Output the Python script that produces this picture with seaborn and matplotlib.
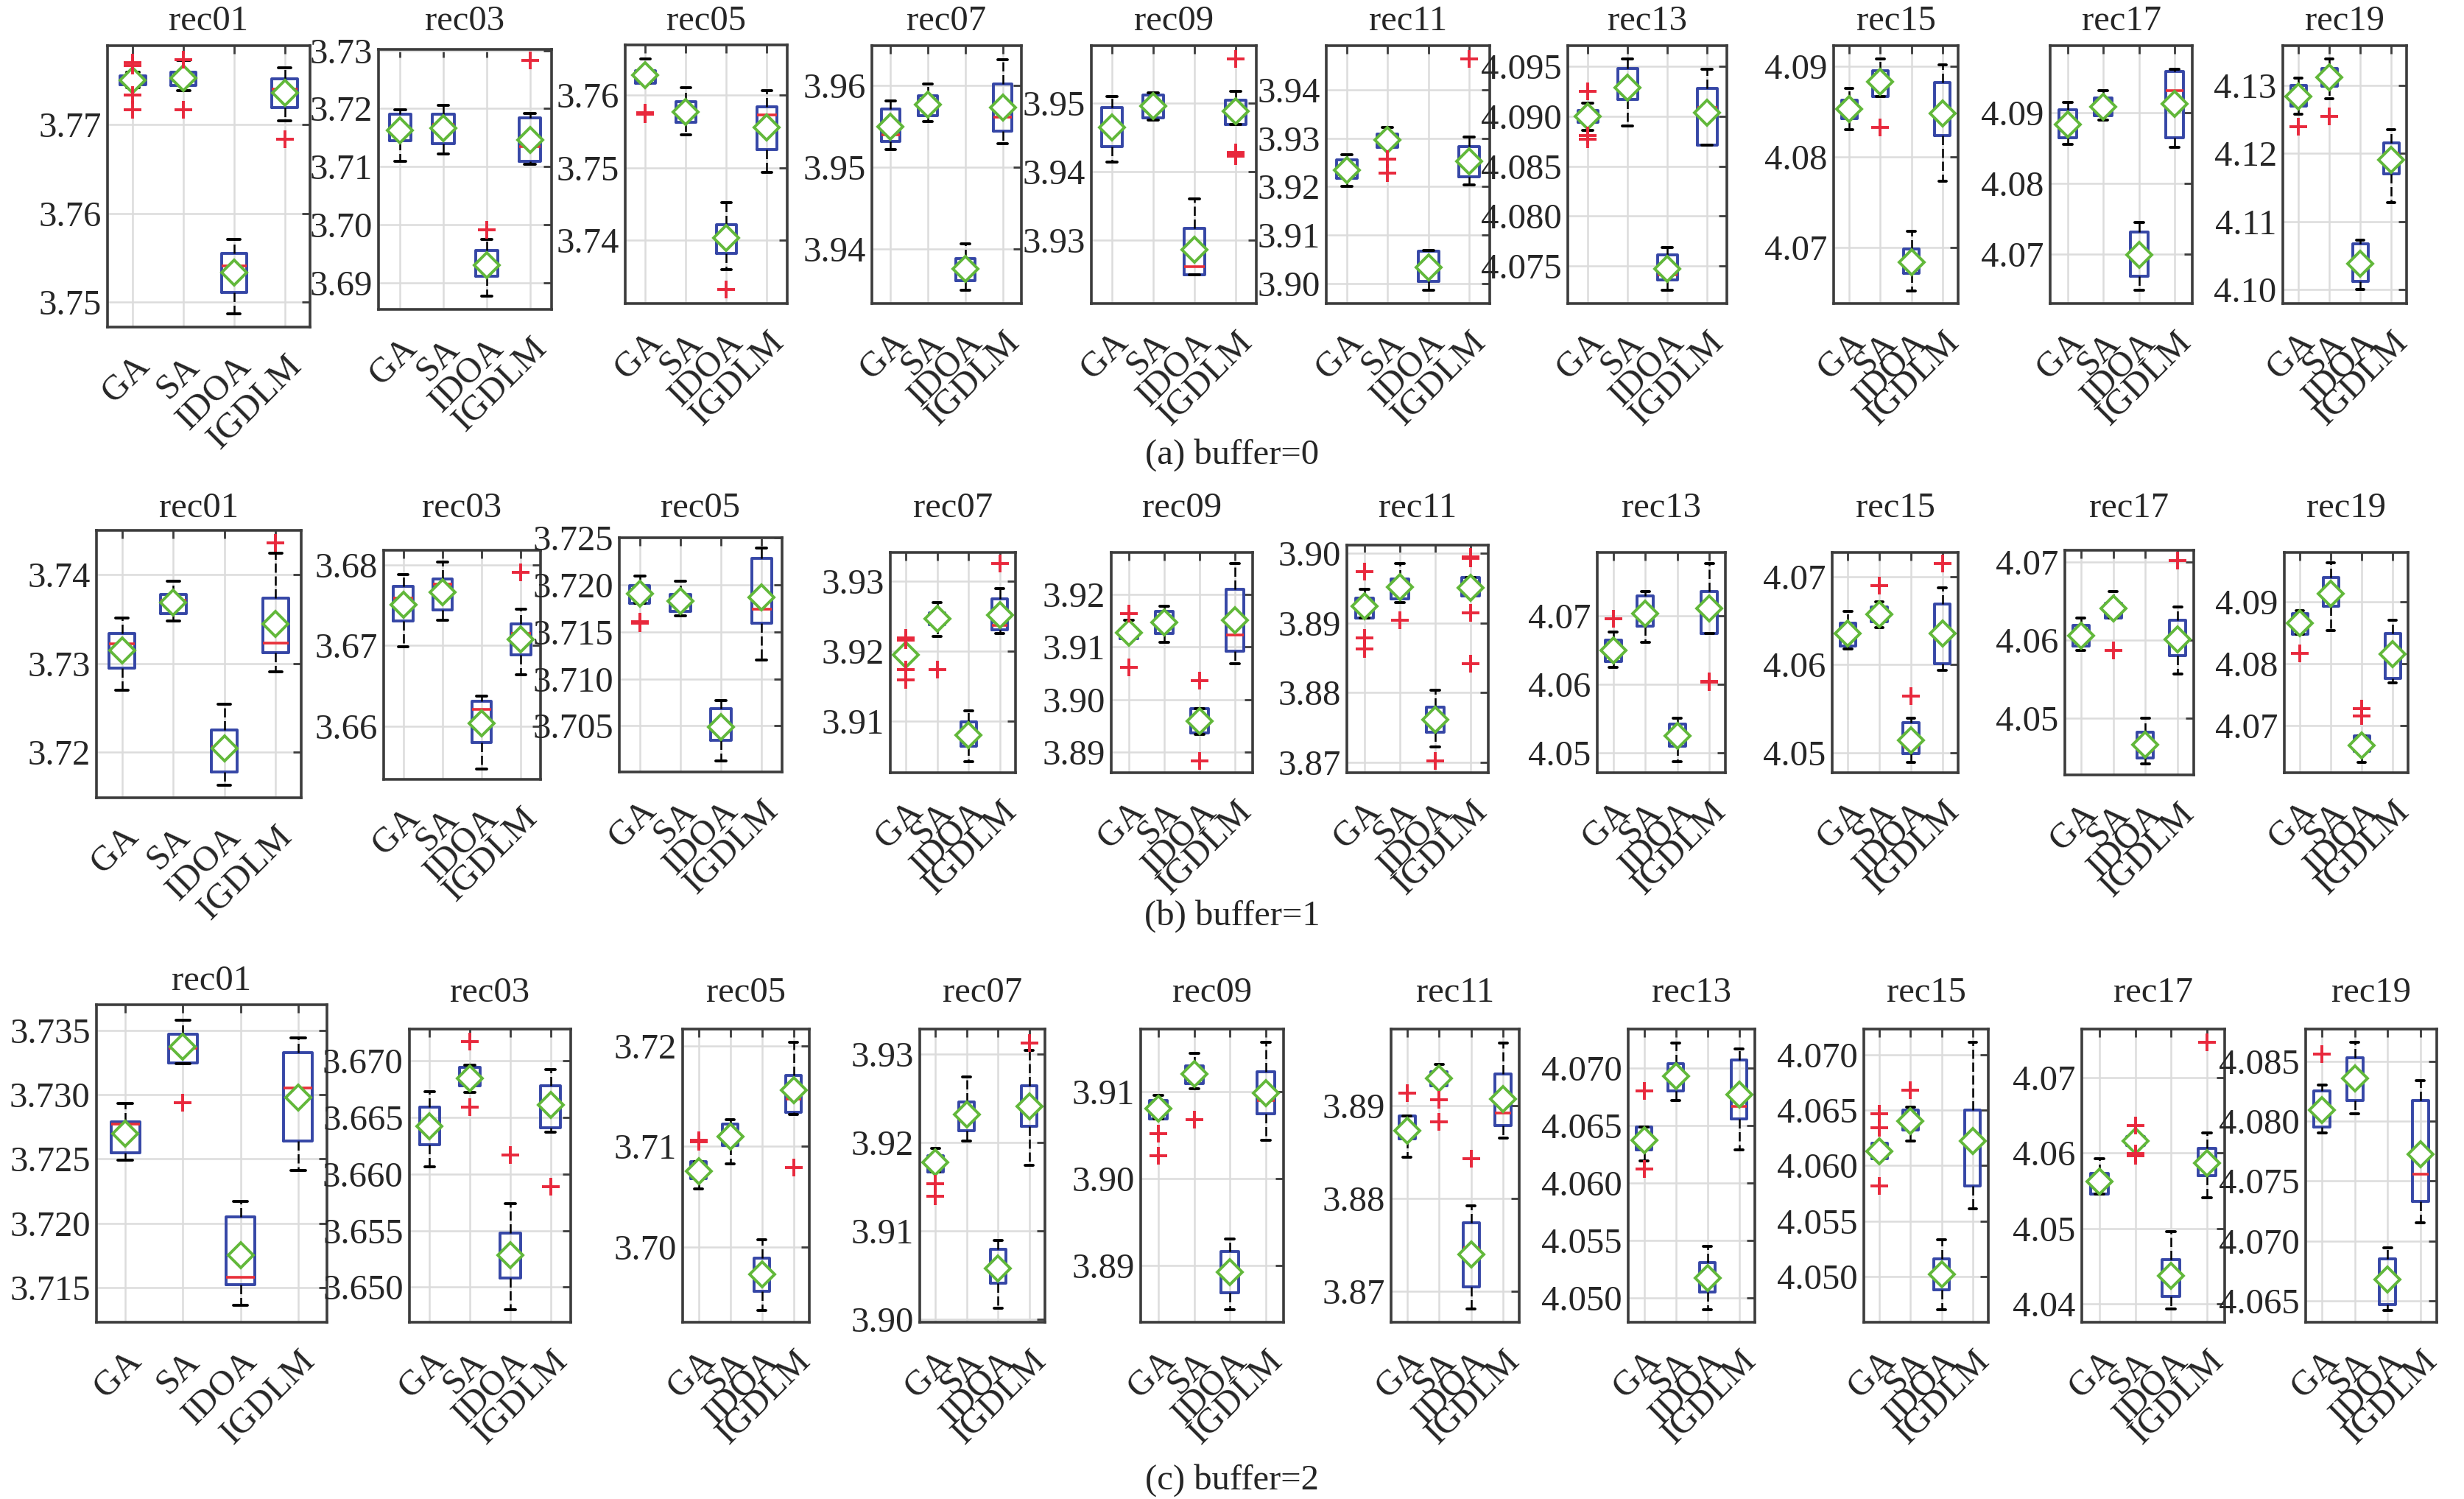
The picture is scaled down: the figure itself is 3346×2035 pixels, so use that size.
import matplotlib
matplotlib.use('Agg')
import matplotlib.pyplot as plt
from matplotlib.transforms import ScaledTranslation
import seaborn as sns
import pandas as pd

W, H = 3346, 2035

algorithms = ['GA', 'SA', 'IDOA', 'IGDLM']
recs = ['rec01', 'rec03', 'rec05', 'rec07', 'rec09',
        'rec11', 'rec13', 'rec15', 'rec17', 'rec19']
captions = ['(a) buffer=0', '(b) buffer=1', '(c) buffer=2']

# (lower whisker, Q1, median, Q3, upper whisker) for GA, SA, IDOA, IGDLM
box_buf0 = {
    'rec01': [(3.7742, 3.7745, 3.7750, 3.7755, 3.7759), (3.7738, 3.7744, 3.7753, 3.7759, 3.7772),
              (3.7487, 3.7511, 3.7541, 3.7555, 3.7571), (3.7704, 3.7719, 3.7740, 3.7752, 3.7764)],
    'rec03': [(3.7109, 3.7144, 3.7165, 3.7190, 3.7198), (3.7122, 3.7139, 3.7173, 3.7190, 3.7206),
              (3.6877, 3.6911, 3.6930, 3.6955, 3.6975), (3.7104, 3.7109, 3.7135, 3.7184, 3.7192)],
    'rec05': [(3.7616, 3.7616, 3.7627, 3.7634, 3.7650), (3.7545, 3.7563, 3.7577, 3.7591, 3.7610),
              (3.7360, 3.7382, 3.7402, 3.7422, 3.7452), (3.7494, 3.7525, 3.7573, 3.7584, 3.7606)],
    'rec07': [(3.9522, 3.9532, 3.9540, 3.9571, 3.9581), (3.9556, 3.9563, 3.9578, 3.9588, 3.9602),
              (3.9349, 3.9361, 3.9377, 3.9388, 3.9406), (3.9529, 3.9544, 3.9561, 3.9602, 3.9632)],
    'rec09': [(3.9414, 3.9436, 3.9469, 3.9493, 3.9510), (3.9475, 3.9478, 3.9497, 3.9512, 3.9515),
              (3.9249, 3.9249, 3.9261, 3.9317, 3.9360), (3.9469, 3.9469, 3.9486, 3.9504, 3.9517)],
    'rec11': [(3.9200, 3.9217, 3.9234, 3.9255, 3.9266), (3.9281, 3.9281, 3.9293, 3.9309, 3.9323),
              (3.8987, 3.9004, 3.9035, 3.9067, 3.9068), (3.9204, 3.9220, 3.9249, 3.9283, 3.9303)],
    'rec13': [(4.0886, 4.0894, 4.0901, 4.0906, 4.0913), (4.0890, 4.0917, 4.0926, 4.0948, 4.0958),
              (4.0725, 4.0736, 4.0741, 4.0761, 4.0768), (4.0871, 4.0871, 4.0909, 4.0928, 4.0947)],
    'rec15': [(4.0830, 4.0842, 4.0852, 4.0863, 4.0876), (4.0867, 4.0867, 4.0885, 4.0895, 4.0908),
              (4.0652, 4.0671, 4.0680, 4.0698, 4.0718), (4.0773, 4.0824, 4.0852, 4.0882, 4.0902)],
    'rec17': [(4.0855, 4.0865, 4.0877, 4.0904, 4.0915), (4.0890, 4.0896, 4.0904, 4.0921, 4.0931),
              (4.0649, 4.0669, 4.0698, 4.0731, 4.0745), (4.0851, 4.0865, 4.0931, 4.0958, 4.0962)],
    'rec19': [(4.1258, 4.1269, 4.1280, 4.1300, 4.1310), (4.1280, 4.1299, 4.1317, 4.1325, 4.1339),
              (4.1000, 4.1012, 4.1032, 4.1068, 4.1073), (4.1128, 4.1170, 4.1200, 4.1215, 4.1235)],
}
box_buf1 = {
    'rec01': [(3.7270, 3.7295, 3.7322, 3.7334, 3.7351), (3.7348, 3.7356, 3.7371, 3.7378, 3.7393),
              (3.7163, 3.7178, 3.7206, 3.7225, 3.7254), (3.7291, 3.7312, 3.7323, 3.7374, 3.7424)],
    'rec03': [(3.6698, 3.6730, 3.6759, 3.6773, 3.6788), (3.6731, 3.6744, 3.6776, 3.6782, 3.6803),
              (3.6547, 3.6580, 3.6621, 3.6631, 3.6637), (3.6664, 3.6688, 3.6715, 3.6727, 3.6745)],
    'rec05': [(3.7180, 3.7180, 3.7189, 3.7199, 3.7209), (3.7167, 3.7172, 3.7182, 3.7190, 3.7204),
              (3.7013, 3.7035, 3.7046, 3.7068, 3.7077), (3.7120, 3.7159, 3.7174, 3.7228, 3.7239)],
    'rec07': [(3.9189, 3.9189, 3.9195, 3.9199, 3.9199), (3.9221, 3.9238, 3.9247, 3.9255, 3.9269),
              (3.9042, 3.9064, 3.9073, 3.9099, 3.9115), (3.9225, 3.9230, 3.9237, 3.9275, 3.9289)],
    'rec09': [(3.9116, 3.9116, 3.9126, 3.9133, 3.9150), (3.9108, 3.9125, 3.9154, 3.9167, 3.9177),
              (3.8933, 3.8936, 3.8961, 3.8982, 3.8982), (3.9068, 3.9092, 3.9123, 3.9209, 3.9258)],
    'rec11': [(3.8907, 3.8907, 3.8925, 3.8936, 3.8949), (3.8929, 3.8935, 3.8952, 3.8963, 3.8986),
              (3.8722, 3.8743, 3.8762, 3.8779, 3.8803), (3.8939, 3.8939, 3.8946, 3.8965, 3.8965)],
    'rec13': [(4.0625, 4.0634, 4.0651, 4.0665, 4.0677), (4.0662, 4.0685, 4.0702, 4.0729, 4.0736),
              (4.0487, 4.0510, 4.0529, 4.0542, 4.0551), (4.0675, 4.0675, 4.0707, 4.0736, 4.0777)],
    'rec15': [(4.0618, 4.0621, 4.0633, 4.0647, 4.0661), (4.0642, 4.0649, 4.0659, 4.0666, 4.0672),
              (4.0489, 4.0499, 4.0506, 4.0534, 4.0539), (4.0594, 4.0601, 4.0629, 4.0669, 4.0688)],
    'rec17': [(4.0587, 4.0592, 4.0603, 4.0619, 4.0628), (4.0628, 4.0628, 4.0640, 4.0647, 4.0662),
              (4.0441, 4.0449, 4.0458, 4.0482, 4.0500), (4.0556, 4.0580, 4.0600, 4.0625, 4.0642)],
    'rec19': [(4.0848, 4.0848, 4.0867, 4.0881, 4.0886), (4.0854, 4.0893, 4.0909, 4.0939, 4.0963),
              (4.0640, 4.0658, 4.0666, 4.0683, 4.0683), (4.0769, 4.0776, 4.0817, 4.0849, 4.0870)],
}
box_buf2 = {
    'rec01': [(3.7249, 3.7255, 3.7277, 3.7279, 3.7293), (3.7324, 3.7325, 3.7336, 3.7347, 3.7358),
              (3.7136, 3.7152, 3.7158, 3.7205, 3.7217), (3.7241, 3.7264, 3.7305, 3.7333, 3.7344)],
    'rec03': [(3.6606, 3.6626, 3.6645, 3.6659, 3.6673), (3.6672, 3.6678, 3.6681, 3.6694, 3.6696),
              (3.6480, 3.6508, 3.6530, 3.6548, 3.6574), (3.6637, 3.6641, 3.6659, 3.6678, 3.6692)],
    'rec05': [(3.7058, 3.7068, 3.7080, 3.7085, 3.7085), (3.7083, 3.7101, 3.7114, 3.7122, 3.7127),
              (3.6937, 3.6956, 3.6973, 3.6989, 3.7007), (3.7132, 3.7134, 3.7147, 3.7171, 3.7204)],
    'rec07': [(3.9167, 3.9167, 3.9178, 3.9185, 3.9193), (3.9202, 3.9213, 3.9225, 3.9246, 3.9274),
              (3.9013, 3.9041, 3.9062, 3.9079, 3.9089), (3.9174, 3.9218, 3.9245, 3.9264, 3.9304)],
    'rec09': [(3.9069, 3.9069, 3.9083, 3.9090, 3.9096), (3.9103, 3.9109, 3.9119, 3.9130, 3.9144),
              (3.8849, 3.8869, 3.8898, 3.8916, 3.8931), (3.9044, 3.9075, 3.9090, 3.9123, 3.9157)],
    'rec11': [(3.8844, 3.8864, 3.8871, 3.8889, 3.8889), (3.8921, 3.8921, 3.8926, 3.8936, 3.8944),
              (3.8681, 3.8705, 3.8747, 3.8774, 3.8792), (3.8865, 3.8878, 3.8892, 3.8934, 3.8967)],
    'rec13': [(4.0619, 4.0629, 4.0638, 4.0649, 4.0649), (4.0672, 4.0680, 4.0689, 4.0704, 4.0722),
              (4.0490, 4.0505, 4.0514, 4.0531, 4.0545), (4.0629, 4.0656, 4.0667, 4.0707, 4.0717)],
    'rec15': [(4.0606, 4.0606, 4.0611, 4.0620, 4.0620), (4.0622, 4.0632, 4.0640, 4.0650, 4.0653),
              (4.0470, 4.0488, 4.0504, 4.0516, 4.0533), (4.0561, 4.0582, 4.0617, 4.0650, 4.0711)],
    'rec17': [(4.0546, 4.0546, 4.0558, 4.0573, 4.0592), (4.0610, 4.0610, 4.0618, 4.0622, 4.0622),
              (4.0394, 4.0410, 4.0436, 4.0459, 4.0496), (4.0541, 4.0570, 4.0586, 4.0606, 4.0627)],
    'rec19': [(4.0790, 4.0795, 4.0805, 4.0825, 4.0830), (4.0806, 4.0817, 4.0840, 4.0853, 4.0866),
              (4.0642, 4.0647, 4.0672, 4.0685, 4.0694), (4.0715, 4.0733, 4.0756, 4.0817, 4.0834)],
}

# outliers (red +) for GA, SA, IDOA, IGDLM
out_buf0 = {
    'rec01': [[3.7770, 3.7767, 3.7733, 3.7717], [3.7773, 3.7717], [], [3.7684]],
    'rec03': [[], [], [3.6991], [3.7283]],
    'rec05': [[3.7574, 3.7576], [], [3.7332], []],
    'rec07': [[], [], [], []],
    'rec09': [[], [], [], [3.9565, 3.9428, 3.9422, 3.9425]],
    'rec11': [[], [3.9257, 3.9228], [], [3.9464]],
    'rec13': [[4.0925, 4.0881, 4.0877], [], [], []],
    'rec15': [[], [4.0833], [], []],
    'rec17': [[], [], [], []],
    'rec19': [[4.1239], [4.1254], [], []],
}
out_buf1 = {
    'rec01': [[], [], [], [3.7436]],
    'rec03': [[], [], [], [3.6791]],
    'rec05': [[3.7159, 3.7161], [], [], []],
    'rec07': [[3.9219, 3.9216, 3.9173, 3.9159], [3.9173], [], [3.9325]],
    'rec09': [[3.9163, 3.9061], [], [3.9036, 3.8883], []],
    'rec11': [[3.8974, 3.8879, 3.8863], [3.8904], [3.8702], [3.8995, 3.8993, 3.8915, 3.8842]],
    'rec13': [[4.0696], [], [], [4.0605, 4.0603]],
    'rec15': [[], [4.0690], [4.0564], [4.0715]],
    'rec17': [[], [4.0587], [], [4.0702]],
    'rec19': [[4.0816], [], [4.0727, 4.0715], []],
}
out_buf2 = {
    'rec01': [[], [3.7294], [], []],
    'rec03': [[], [3.6717, 3.6659], [3.6617], [3.6589]],
    'rec05': [[3.7105, 3.7106], [], [], [3.7079]],
    'rec07': [[3.9153, 3.9139], [], [], [3.9312]],
    'rec09': [[3.9052, 3.9026], [3.9068], [], []],
    'rec11': [[3.8913], [3.8906, 3.8882], [3.8843], []],
    'rec13': [[4.0680, 4.0612], [], [], []],
    'rec15': [[4.0647, 4.0634, 4.0582], [4.0668], [], []],
    'rec17': [[], [4.0636, 4.0599, 4.0596], [], [4.0746]],
    'rec19': [[4.0856], [], [], []],
}

ytick_buf0 = [['3.75', '3.76', '3.77'], ['3.69', '3.70', '3.71', '3.72', '3.73'],
              ['3.74', '3.75', '3.76'], ['3.94', '3.95', '3.96'], ['3.93', '3.94', '3.95'],
              ['3.90', '3.91', '3.92', '3.93', '3.94'],
              ['4.075', '4.080', '4.085', '4.090', '4.095'],
              ['4.07', '4.08', '4.09'], ['4.07', '4.08', '4.09'],
              ['4.10', '4.11', '4.12', '4.13']]
ytick_buf1 = [['3.72', '3.73', '3.74'], ['3.66', '3.67', '3.68'],
              ['3.705', '3.710', '3.715', '3.720', '3.725'], ['3.91', '3.92', '3.93'],
              ['3.89', '3.90', '3.91', '3.92'], ['3.87', '3.88', '3.89', '3.90'],
              ['4.05', '4.06', '4.07'], ['4.05', '4.06', '4.07'], ['4.05', '4.06', '4.07'],
              ['4.07', '4.08', '4.09']]
ytick_buf2 = [['3.715', '3.720', '3.725', '3.730', '3.735'],
              ['3.650', '3.655', '3.660', '3.665', '3.670'], ['3.70', '3.71', '3.72'],
              ['3.90', '3.91', '3.92', '3.93'], ['3.89', '3.90', '3.91'], ['3.87', '3.88', '3.89'],
              ['4.050', '4.055', '4.060', '4.065', '4.070'],
              ['4.050', '4.055', '4.060', '4.065', '4.070'],
              ['4.04', '4.05', '4.06', '4.07'],
              ['4.065', '4.070', '4.075', '4.080', '4.085']]

ylim_buf0 = [(3.7472, 3.7789), (3.6854, 3.7302), (3.7313, 3.7669), (3.9333, 3.9649),
             (3.9207, 3.9584), (3.8959, 3.9491), (4.0712, 4.0971), (4.0638, 4.0923),
             (4.0630, 4.0995), (4.0980, 4.1358)]
ylim_buf1 = [(3.7149, 3.7450), (3.6534, 3.6818), (3.7001, 3.7250), (3.9026, 3.9341),
             (3.8861, 3.9279), (3.8685, 3.9012), (4.0471, 4.0793), (4.0477, 4.0728),
             (4.0427, 4.0715), (4.0623, 4.0980)]
ylim_buf2 = [(3.7123, 3.7370), (3.6469, 3.6728), (3.6925, 3.7217), (3.8997, 3.9328),
             (3.8835, 3.9172), (3.8667, 3.8982), (4.0479, 4.0734), (4.0459, 4.0723),
             (4.0376, 4.0764), (4.0632, 4.0877)]

# axes frames in pixels: left, top, right, bottom
frame_buf0 = [(146, 62, 421, 444), (514, 67, 749, 420), (849, 61, 1069, 412),
              (1184, 62, 1387, 412), (1482, 62, 1706, 412), (1801, 62, 2023, 412),
              (2129, 62, 2345, 412), (2490, 62, 2659, 412), (2784, 62, 2977, 412),
              (3100, 62, 3268, 412)]
frame_buf1 = [(131, 720, 409, 1083), (521, 747, 734, 1058), (841, 730, 1062, 1048),
              (1209, 750, 1379, 1049), (1509, 750, 1701, 1049), (1829, 740, 2021, 1049),
              (2169, 750, 2343, 1049), (2488, 750, 2659, 1049), (2804, 747, 2979, 1052),
              (3102, 750, 3270, 1049)]
frame_buf2 = [(131, 1364, 444, 1795), (556, 1397, 775, 1795), (927, 1397, 1099, 1795),
              (1249, 1397, 1419, 1795), (1549, 1397, 1743, 1795), (1889, 1397, 2063, 1795),
              (2211, 1397, 2383, 1795), (2531, 1397, 2700, 1795), (2827, 1397, 3021, 1795),
              (3131, 1397, 3309, 1795)]
title_y = [[29] * 10, [690] * 10, [1332] + [1348] * 9]
caption_y = [618, 1244, 2010]

BOX_BLUE = '#3546a6'
MED_RED = '#e8303a'
MEAN_GREEN = '#62b83a'
OUT_RED = '#e8283c'
FRAME = '#3c3c3c'
FS = 35

sns.set_style('white')
plt.rcParams['font.family'] = ['Liberation Serif', 'DejaVu Serif']

fig = plt.figure(figsize=(W / 100, H / 100), dpi=100)


def draw_panel(ax, stats, outs, tick_labels, ylim):
    rows = []
    for alg, (lo, q1, med, q3, hi) in zip(algorithms, stats):
        for v in (lo, q1, q1, med, q3, q3, hi):
            rows.append((alg, v))
    df = pd.DataFrame(rows, columns=['alg', 'val'])
    sns.boxplot(data=df, x='alg', y='val', order=algorithms, ax=ax,
                whis=(0, 100), width=0.5, fill=False, saturation=1,
                color=BOX_BLUE, linewidth=2.5, showfliers=False, showmeans=True,
                boxprops=dict(color=BOX_BLUE, linewidth=2.8),
                medianprops=dict(color=MED_RED, linewidth=2.6),
                whiskerprops=dict(color='black', linestyle=(0, (5, 2)), linewidth=1.8),
                capprops=dict(color='black', linewidth=2.8),
                meanprops=dict(marker='D', markerfacecolor='white',
                               markeredgecolor=MEAN_GREEN, markersize=17,
                               markeredgewidth=2.8))
    for i, o in enumerate(outs):
        if o:
            ax.plot([i] * len(o), o, linestyle='none', marker='+', color=OUT_RED,
                    markersize=17, markeredgewidth=2.8, zorder=4)
    ax.set_xlim(-0.5, 3.5)
    ax.set_ylim(*ylim)
    ax.set_yticks([float(t) for t in tick_labels])
    ax.set_yticklabels(tick_labels)
    ax.set_xticks(range(len(algorithms)))
    ax.set_xticklabels(algorithms, rotation=45, ha='right', va='top',
                       rotation_mode='anchor')
    for lab in ax.get_xticklabels():
        lab.set_transform(lab.get_transform() +
                          ScaledTranslation(0.3, 0, fig.dpi_scale_trans))
    ax.set_xlabel('')
    ax.set_ylabel('')
    ax.grid(True, color='#dcdcdc', linewidth=1.8)
    ax.set_axisbelow(True)
    ax.tick_params(direction='in', length=8, width=2, top=True, right=True,
                   labelsize=FS, color=FRAME, pad=6)
    ax.tick_params(axis='x', pad=22)
    for sp in ax.spines.values():
        sp.set_color(FRAME)
        sp.set_linewidth(2.6)


rows_data = [
    (box_buf0, out_buf0, ytick_buf0, ylim_buf0, frame_buf0),
    (box_buf1, out_buf1, ytick_buf1, ylim_buf1, frame_buf1),
    (box_buf2, out_buf2, ytick_buf2, ylim_buf2, frame_buf2),
]

for r, (boxes, outs, yticks, ylims, frames) in enumerate(rows_data):
    for c, rec in enumerate(recs):
        l, t, rr, b = frames[c]
        ax = fig.add_axes([l / W, 1 - b / H, (rr - l) / W, (b - t) / H])
        draw_panel(ax, boxes[rec], outs[rec], yticks[c], ylims[c])
        fig.text((l + rr) / 2 / W, 1 - title_y[r][c] / H, rec, ha='center',
                 va='center', fontsize=FS)
    fig.text(1673 / W, 1 - caption_y[r] / H, captions[r], ha='center',
             va='center', fontsize=FS)

fig.savefig('out.png', dpi=100)
plt.close(fig)
